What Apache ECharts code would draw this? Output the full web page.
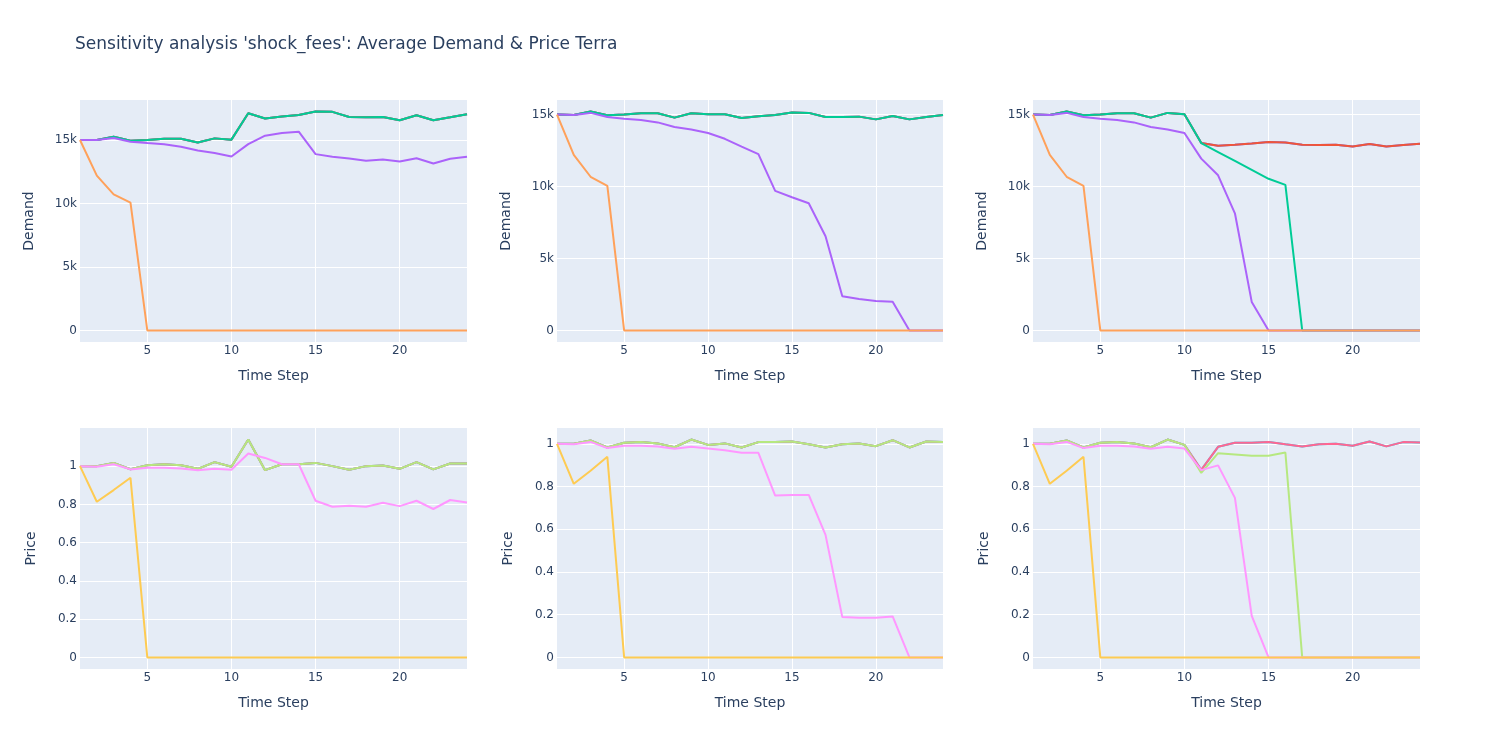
<!DOCTYPE html>
<html>
<head>
<meta charset="utf-8">
<title>Sensitivity analysis shock_fees</title>
<script src="https://cdn.jsdelivr.net/npm/echarts@6/dist/echarts.min.js"></script>
<style>
  html, body { margin: 0; padding: 0; background: #fff; }
  #main { width: 1500px; height: 750px; }
</style>
</head>
<body>
<div id="main"></div>
<script>
// time steps (x axis)
var steps = [1,2,3,4,5,6,7,8,9,10,11,12,13,14,15,16,17,18,19,20,21,22,23,24];

// demand, panel 1
var dem1Base = [15000,15000,15260,14950,15000,15100,15100,14810,15130,15030,17110,16690,16850,16980,17240,17220,16820,16790,16820,16560,16950,16560,16790,17030];
var dem1Mid = [15000,15000,15160,14870,14760,14660,14470,14180,13970,13700,14680,15340,15550,15660,13890,13680,13550,13360,13470,13310,13570,13150,13520,13680];
var dem1Low = [15000,12200,10720,10060,0,0,0,0,0,0,0,0,0,0,0,0,0,0,0,0,0,0,0,0];

// demand, panel 2
var dem2Base = [15000,14980,15210,14950,15000,15090,15090,14790,15090,15020,15020,14770,14880,14980,15140,15120,14840,14840,14860,14670,14910,14670,14840,14980];
var dem2Mid = [15000,14980,15120,14840,14720,14630,14460,14140,13970,13720,13320,12780,12250,9700,9260,8840,6550,2380,2190,2050,2000,0,0,0];
var dem2Low = [15000,12200,10680,10050,0,0,0,0,0,0,0,0,0,0,0,0,0,0,0,0,0,0,0,0];

// demand, panel 3
var dem3Base = [15000,14980,15210,14950,15000,15090,15090,14790,15120,15020,13020,12830,12900,12990,13090,13060,12900,12880,12900,12780,12950,12780,12880,12970];
var dem3Green = [15000,14980,15210,14950,15000,15090,15090,14790,15120,15020,13020,12400,11780,11160,10540,10120,0,0,0,0,0,0,0,0];
var dem3Mid = [15000,14980,15120,14840,14720,14630,14460,14140,13970,13720,11940,10780,8140,1980,0,0,0,0,0,0,0,0,0,0];
var dem3Low = [15000,12200,10680,10050,0,0,0,0,0,0,0,0,0,0,0,0,0,0,0,0,0,0,0,0];

// price, panel 4
var pr1Base = [1.0,1.0,1.017,0.984,1.005,1.01,1.005,0.986,1.021,0.997,1.139,0.979,1.01,1.01,1.017,1.0,0.981,1.0,1.003,0.986,1.021,0.983,1.014,1.014];
var pr1Mid = [1.0,0.997,1.01,0.983,0.991,0.991,0.988,0.979,0.986,0.981,1.066,1.043,1.01,1.01,0.819,0.788,0.793,0.788,0.809,0.791,0.819,0.776,0.823,0.81];
var pr1Low = [1.0,0.814,0.875,0.939,0,0,0,0,0,0,0,0,0,0,0,0,0,0,0,0,0,0,0,0];

// price, panel 5
var pr2Base = [1.0,1.0,1.016,0.983,1.005,1.008,1.002,0.984,1.02,0.995,1.002,0.983,1.008,1.008,1.011,0.998,0.983,0.998,1.002,0.989,1.017,0.983,1.011,1.008];
var pr2Mid = [1.0,0.998,1.009,0.98,0.991,0.991,0.988,0.977,0.986,0.978,0.97,0.958,0.958,0.758,0.761,0.761,0.574,0.189,0.186,0.186,0.192,0,0,0];
var pr2Low = [1.0,0.813,0.874,0.939,0,0,0,0,0,0,0,0,0,0,0,0,0,0,0,0,0,0,0,0];

// price, panel 6
var pr3Base = [1.0,1.0,1.016,0.983,1.005,1.008,1.002,0.984,1.02,0.995,0.878,0.986,1.005,1.005,1.009,0.998,0.988,0.998,1.0,0.991,1.011,0.988,1.008,1.006];
var pr3Green = [1.0,1.0,1.016,0.983,1.005,1.008,1.002,0.984,1.02,0.995,0.864,0.956,0.95,0.944,0.944,0.959,0,0,0,0,0,0,0,0];
var pr3Mid = [1.0,0.998,1.009,0.98,0.991,0.991,0.988,0.977,0.986,0.978,0.877,0.899,0.747,0.195,0,0,0,0,0,0,0,0,0,0];
var pr3Low = [1.0,0.813,0.874,0.939,0,0,0,0,0,0,0,0,0,0,0,0,0,0,0,0,0,0,0,0];

var demandColors = ['#636efa', '#EF553B', '#00cc96', '#ab63fa', '#FFA15A'];
var priceColors = ['#19d3f3', '#FF6692', '#B6E880', '#FF97FF', '#FECB52'];
var txt = '#2a3f5f';
var font = 'Verdana, "DejaVu Sans", sans-serif';

// each panel: 5 traces in plotly order (first ones end up hidden underneath)
var panels = [
    {kind: 'demand', traces: [dem1Base, dem1Base, dem1Base, dem1Mid, dem1Low]},
    {kind: 'demand', traces: [dem2Base, dem2Base, dem2Base, dem2Mid, dem2Low]},
    {kind: 'demand', traces: [dem3Base, dem3Base, dem3Green, dem3Mid, dem3Low]},
    {kind: 'price', traces: [pr1Base, pr1Base, pr1Base, pr1Mid, pr1Low]},
    {kind: 'price', traces: [pr2Base, pr2Base, pr2Base, pr2Mid, pr2Low]},
    {kind: 'price', traces: [pr3Base, pr3Base, pr3Green, pr3Mid, pr3Low]}
];

var lefts = [80, 557, 1033];
var widths = [387, 386, 387];

var grids = [], xAxes = [], yAxes = [], series = [];

panels.forEach(function (p, i) {
    var col = i % 3, row = Math.floor(i / 3);
    grids.push({
        left: lefts[col], width: widths[col],
        top: row === 0 ? 100 : 428, height: row === 0 ? 242 : 241,
        show: true, backgroundColor: '#E5ECF6', borderWidth: 0, containLabel: false
    });

    // autorange like plotly: a little padding on both ends
    var lo = Infinity, hi = -Infinity;
    p.traces.forEach(function (t) {
        t.forEach(function (v) { if (v < lo) lo = v; if (v > hi) hi = v; });
    });
    var pad = (hi - lo) * 0.053;
    var isDemand = p.kind === 'demand';

    xAxes.push({
        gridIndex: i, type: 'value', min: 1, max: 24, splitNumber: 5,
        name: 'Time Step', nameLocation: 'middle', nameGap: 27,
        nameTextStyle: {color: txt, fontSize: 14, fontFamily: font},
        axisLine: {show: false}, axisTick: {show: false},
        axisLabel: {
            color: txt, fontSize: 12, fontFamily: font, margin: 3,
            formatter: function (v) { return v % 5 === 0 ? String(v) : ''; }
        },
        splitLine: {show: true, showMinLine: false, showMaxLine: false, lineStyle: {color: '#fff', width: 1}}
    });

    yAxes.push({
        gridIndex: i, type: 'value', min: lo - pad, max: hi + pad,
        splitNumber: isDemand ? 4 : 6,
        name: isDemand ? 'Demand' : 'Price', nameLocation: 'middle', nameGap: isDemand ? 44 : 42,
        nameTextStyle: {color: txt, fontSize: 14, fontFamily: font},
        axisLine: {show: false}, axisTick: {show: false},
        axisLabel: {
            color: txt, fontSize: 12, fontFamily: font, margin: 3,
            formatter: function (v) {
                if (isDemand) {
                    if (Math.abs(v % 5000) > 1e-6) return '';
                    return v === 0 ? '0' : (v / 1000) + 'k';
                }
                var r = Math.round(v * 10) / 10;
                if (Math.abs(v - r) > 1e-6 || Math.abs(Math.round(r * 10) % 2) === 1) return '';
                return String(r);
            }
        },
        splitLine: {show: true, showMinLine: false, showMaxLine: false, lineStyle: {color: '#fff', width: 1}}
    });

    var colors = isDemand ? demandColors : priceColors;
    p.traces.forEach(function (t, k) {
        series.push({
            type: 'line', xAxisIndex: i, yAxisIndex: i,
            data: steps.map(function (s, j) { return [s, t[j]]; }),
            symbol: 'none', silent: true,
            lineStyle: {color: colors[k], width: 2},
            itemStyle: {color: colors[k]},
            z: 2 + k
        });
    });
});

var chart = echarts.init(document.getElementById('main'));
chart.setOption({
    animation: false,
    backgroundColor: '#fff',
    title: {
        text: "Sensitivity analysis 'shock_fees': Average Demand & Price Terra",
        left: 75, top: 36, padding: 0,
        textStyle: {color: txt, fontSize: 17, fontWeight: 'normal', fontFamily: font}
    },
    grid: grids,
    xAxis: xAxes,
    yAxis: yAxes,
    series: series
});
</script>
</body>
</html>
